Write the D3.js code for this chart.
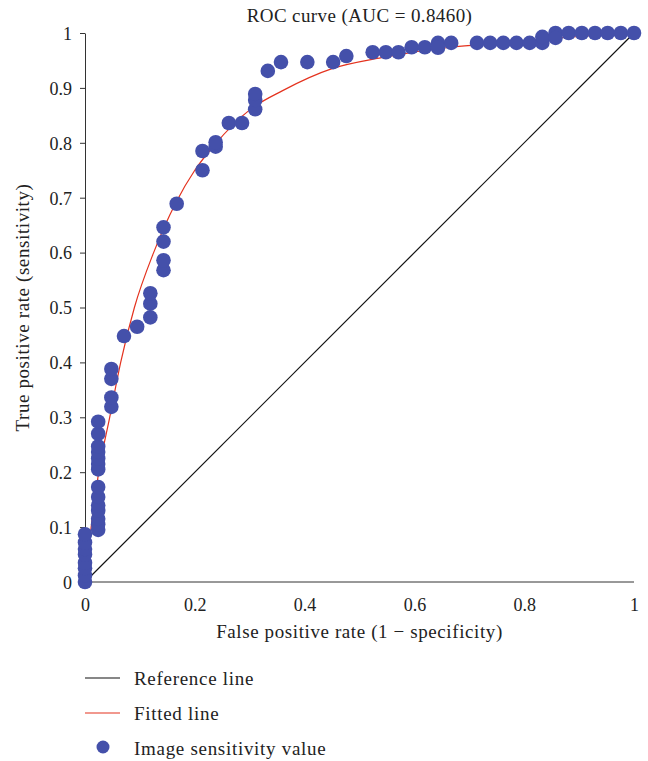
<!DOCTYPE html>
<html>
<head>
<meta charset="utf-8">
<script src="https://cdn.jsdelivr.net/npm/d3@7"></script>
<style>
    html, body { margin: 0; padding: 0; background: #fff; }
    svg { display: block; font-family: "Liberation Serif", "DejaVu Serif", serif; }
    .axis path, .axis line { stroke: #333; }
    .axis text { font-size: 18px; fill: #222; font-family: "Liberation Serif", serif; }
    .label { font-size: 19px; fill: #222; letter-spacing: 0.6px; }
</style>
</head>
<body>
<div id="chart"></div>
<script>
    // observed points (false positive rate, true positive rate)
    var pointFpr = [
        0, 0, 0, 0, 0, 0, 0, 0,
        0.024, 0.024, 0.024, 0.024, 0.024, 0.024, 0.024, 0.024, 0.024, 0.024, 0.024, 0.024, 0.024, 0.024,
        0.048, 0.048, 0.048, 0.048,
        0.071, 0.095, 0.119, 0.119, 0.119,
        0.143, 0.143, 0.143, 0.143, 0.167,
        0.214, 0.214, 0.238, 0.238, 0.262, 0.286, 0.310, 0.310, 0.310,
        0.333, 0.357, 0.405, 0.452, 0.476, 0.524, 0.548, 0.571, 0.595, 0.619, 0.643, 0.643, 0.667,
        0.714, 0.738, 0.762, 0.786, 0.810, 0.833, 0.833, 0.857, 0.857, 0.881, 0.905, 0.929, 0.952, 0.976, 1
    ];
    var pointTpr = [
        0, 0.012, 0.025, 0.035, 0.05, 0.06, 0.072, 0.087,
        0.095, 0.105, 0.115, 0.13, 0.14, 0.155, 0.173, 0.205, 0.215, 0.225, 0.237, 0.247, 0.27, 0.292,
        0.319, 0.336, 0.37, 0.388,
        0.448, 0.465, 0.482, 0.507, 0.526,
        0.568, 0.586, 0.62, 0.646, 0.689,
        0.75, 0.785, 0.793, 0.801, 0.836, 0.836, 0.861, 0.878, 0.889,
        0.931, 0.947, 0.947, 0.947, 0.958, 0.965, 0.965, 0.965, 0.974, 0.974, 0.982, 0.973, 0.982,
        0.982, 0.982, 0.982, 0.982, 0.982, 0.982, 0.993, 1, 0.991, 1, 1, 1, 1, 1, 1
    ];

    // fitted curve
    var fitFpr = [0, 0.01, 0.025, 0.045, 0.065, 0.09, 0.125, 0.165, 0.2, 0.235, 0.3, 0.36, 0.45, 0.54, 0.665, 0.72, 0.85, 1];
    var fitTpr = [0, 0.09, 0.2, 0.3, 0.4, 0.5, 0.6, 0.69, 0.75, 0.795, 0.86, 0.895, 0.935, 0.955, 0.974, 0.979, 0.99, 1];

    var xTicks = [0, 0.2, 0.4, 0.6, 0.8, 1];
    var yTicks = [0, 0.1, 0.2, 0.3, 0.4, 0.5, 0.6, 0.7, 0.8, 0.9, 1];

    var title = "ROC curve (AUC = 0.8460)";
    var xLabel = "False positive rate (1 \u2212 specificity)";
    var yLabel = "True positive rate (sensitivity)";
    var legendItems = ["Reference line", "Fitted line", "Image sensitivity value"];

    var width = 648, height = 761;
    var margin = {top: 33, left: 85, right: 14, bottom: 179};

    var dotColor = "#4450aa",
        fitColor = "#e4321e";

    var x = d3.scaleLinear().domain([0, 1]).range([margin.left, width - margin.right]);
    var y = d3.scaleLinear().domain([0, 1]).range([height - margin.bottom, margin.top]);

    var svg = d3.select("#chart").append("svg")
        .attr("width", width)
        .attr("height", height);

    svg.append("text")
        .attr("class", "label")
        .attr("x", (x(0) + x(1)) / 2)
        .attr("y", 22)
        .attr("text-anchor", "middle")
        .style("letter-spacing", "0.4px")
        .text(title);

    // axes
    var xAxis = svg.append("g")
        .attr("class", "axis")
        .attr("transform", "translate(0," + y(0) + ")")
        .call(d3.axisBottom(x).tickValues(xTicks).tickFormat(d3.format("")).tickSize(0).tickPadding(16));
    xAxis.select(".domain").attr("d", "M" + x(0) + ",0H" + x(1));

    var yAxis = svg.append("g")
        .attr("class", "axis")
        .attr("transform", "translate(" + x(0) + ",0)")
        .call(d3.axisLeft(y).tickValues(yTicks).tickFormat(d3.format("")).tickSize(5).tickSizeOuter(0).tickPadding(8));
    yAxis.selectAll(".tick text").attr("dy", "0.35em");

    svg.append("text")
        .attr("class", "label")
        .attr("x", (x(0) + x(1)) / 2)
        .attr("y", 638)
        .attr("text-anchor", "middle")
        .text(xLabel);

    svg.append("text")
        .attr("class", "label")
        .attr("transform", "translate(29," + (y(0) + y(1)) / 2 + ") rotate(-90)")
        .attr("text-anchor", "middle")
        .text(yLabel);

    // reference line
    svg.append("line")
        .attr("x1", x(0)).attr("y1", y(0))
        .attr("x2", x(1)).attr("y2", y(1))
        .attr("stroke", "#111")
        .attr("stroke-width", 1.2);

    // fitted line
    var fitLine = d3.line()
        .x(function (d, i) { return x(fitFpr[i]); })
        .y(function (d, i) { return y(fitTpr[i]); })
        .curve(d3.curveMonotoneX);

    svg.append("path")
        .datum(fitFpr)
        .attr("d", fitLine)
        .attr("fill", "none")
        .attr("stroke", fitColor)
        .attr("stroke-width", 1.2);

    // points
    svg.append("g").selectAll("circle")
        .data(pointFpr)
        .enter()
        .append("circle")
        .attr("cx", function (d) { return x(d); })
        .attr("cy", function (d, i) { return y(pointTpr[i]); })
        .attr("r", 7.3)
        .attr("fill", dotColor);

    // legend
    var legend = svg.append("g").attr("transform", "translate(85,678)");
    var rowGap = 35;

    legend.append("line")
        .attr("x1", 0).attr("x2", 35).attr("y1", 0).attr("y2", 0)
        .attr("stroke", "#111").attr("stroke-width", 1.2);
    legend.append("line")
        .attr("x1", 0).attr("x2", 35).attr("y1", rowGap).attr("y2", rowGap)
        .attr("stroke", fitColor).attr("stroke-width", 1.2);
    legend.append("circle")
        .attr("cx", 18).attr("cy", rowGap * 2 - 1).attr("r", 6.5)
        .attr("fill", dotColor);

    legend.selectAll("text.lab")
        .data(legendItems)
        .enter()
        .append("text")
        .attr("class", "label lab")
        .attr("x", 49)
        .attr("y", function (d, i) { return i * rowGap; })
        .attr("dy", "0.35em")
        .style("letter-spacing", "0.7px")
        .text(function (d) { return d; });
</script>
</body>
</html>
